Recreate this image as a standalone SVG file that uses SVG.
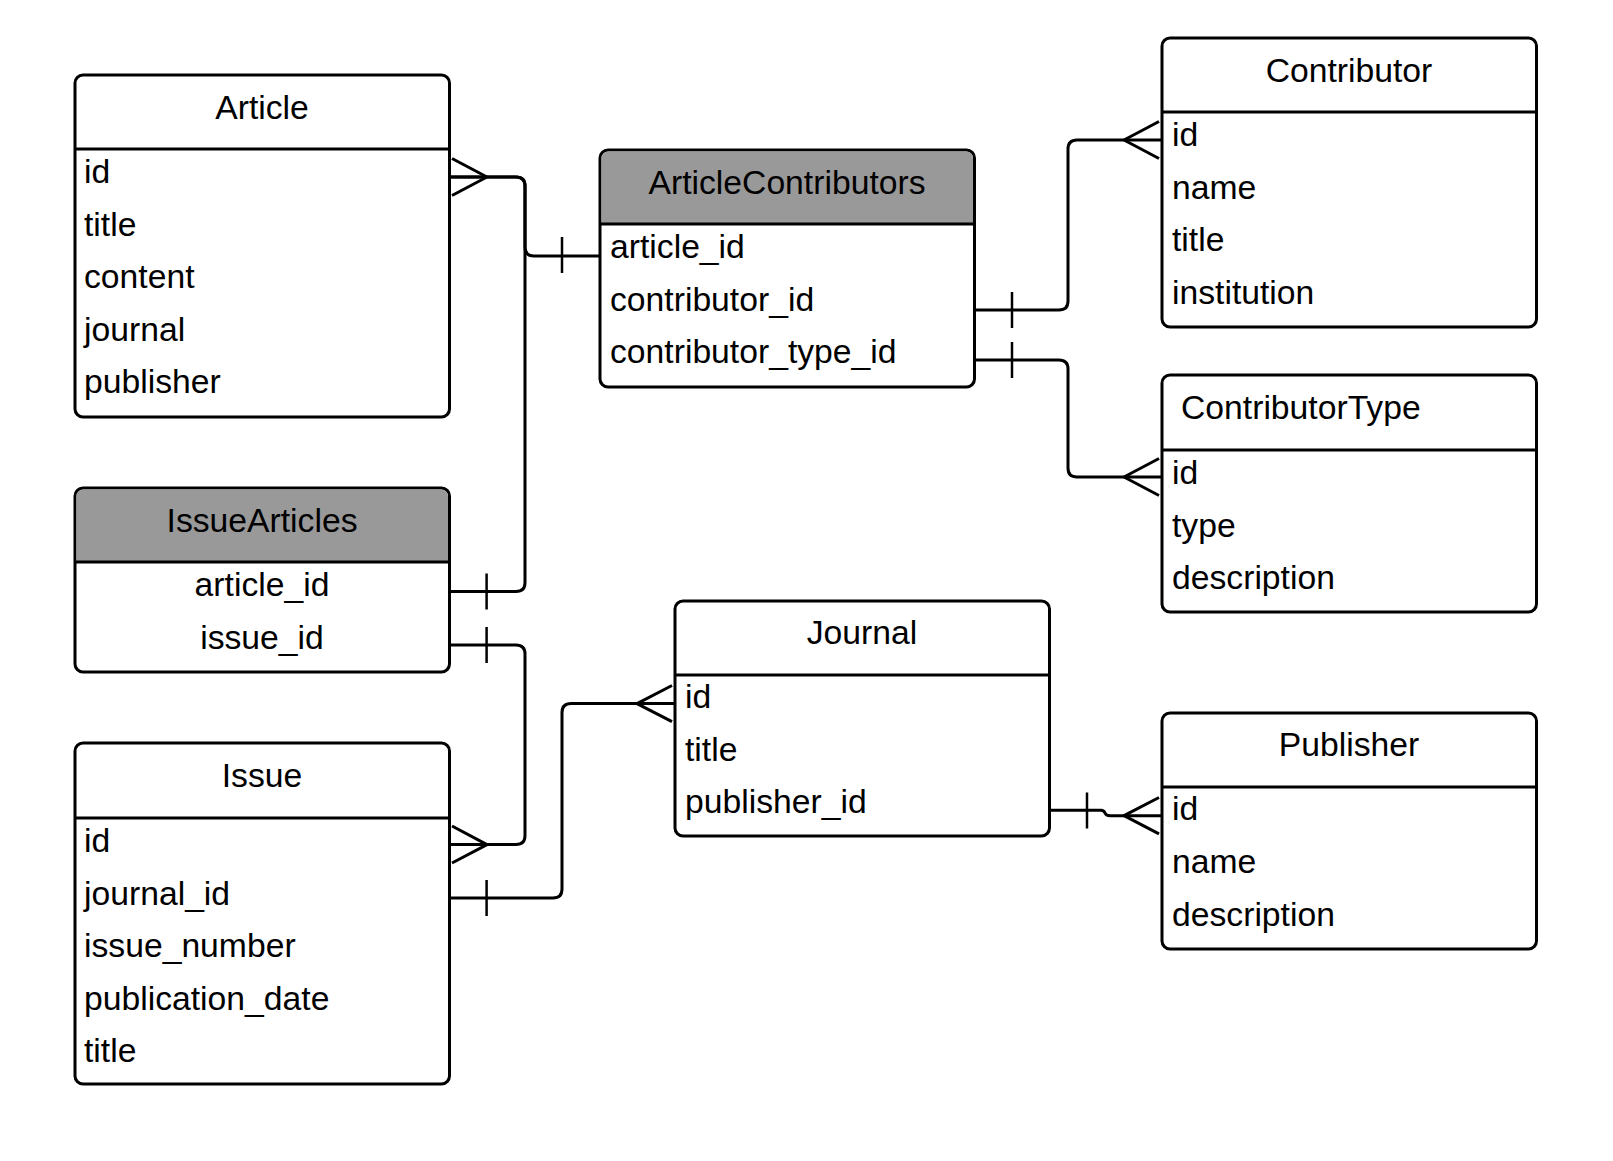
<svg xmlns="http://www.w3.org/2000/svg" width="1613" height="1161" viewBox="0 0 1613 1161">
<style>
.box{fill:#fff;stroke:#000;stroke-width:3}
.hdr{fill:#999;stroke:none}
.sep{stroke:#000;stroke-width:3}
.t{font-family:"Liberation Sans",Arial,sans-serif;font-size:33.7px;fill:#000}
.c{text-anchor:middle}
.ln{fill:none;stroke:#000;stroke-width:3;stroke-linejoin:round}
.tk{stroke:#000;stroke-width:2.5}
</style>
<rect width="1613" height="1161" fill="#fff"/>
<g id="Article">
<rect class="box" x="75" y="75" width="374.5" height="342" rx="8"/>
<line class="sep" x1="75" y1="149" x2="449.5" y2="149"/>
<text class="t c" x="262" y="119">Article</text>
<text class="t" x="84" y="183">id</text>
<text class="t" x="84" y="235.5">title</text>
<text class="t" x="84" y="288">content</text>
<text class="t" x="84" y="340.5">journal</text>
<text class="t" x="84" y="393">publisher</text>
</g>
<g id="ArticleContributors">
<rect class="box" x="600" y="150" width="374.5" height="237" rx="8"/>
<path class="hdr" d="M601.5 224 V159 Q601.5 151.5 609 151.5 H965.5 Q973 151.5 973 159 V224 Z"/>
<line class="sep" x1="600" y1="224" x2="974.5" y2="224"/>
<text class="t c" x="787" y="194">ArticleContributors</text>
<text class="t" x="610" y="258">article_id</text>
<text class="t" x="610" y="310.5">contributor_id</text>
<text class="t" x="610" y="363">contributor_type_id</text>
</g>
<g id="Contributor">
<rect class="box" x="1162" y="38" width="374.5" height="289" rx="8"/>
<line class="sep" x1="1162" y1="112" x2="1536.5" y2="112"/>
<text class="t c" x="1349" y="82">Contributor</text>
<text class="t" x="1172" y="146">id</text>
<text class="t" x="1172" y="198.5">name</text>
<text class="t" x="1172" y="251">title</text>
<text class="t" x="1172" y="303.5">institution</text>
</g>
<g id="ContributorType">
<rect class="box" x="1162" y="375" width="374.5" height="237" rx="8"/>
<line class="sep" x1="1162" y1="450" x2="1536.5" y2="450"/>
<text class="t" x="1181" y="419">ContributorType</text>
<text class="t" x="1172" y="484">id</text>
<text class="t" x="1172" y="536.5">type</text>
<text class="t" x="1172" y="589">description</text>
</g>
<g id="IssueArticles">
<rect class="box" x="75" y="488" width="374.5" height="184" rx="8"/>
<path class="hdr" d="M76.5 562 V497 Q76.5 489.5 84 489.5 H440.5 Q448 489.5 448 497 V562 Z"/>
<line class="sep" x1="75" y1="562" x2="449.5" y2="562"/>
<text class="t c" x="262" y="532">IssueArticles</text>
<text class="t c" x="262" y="596">article_id</text>
<text class="t c" x="262" y="648.5">issue_id</text>
</g>
<g id="Issue">
<rect class="box" x="75" y="743" width="374.5" height="341" rx="8"/>
<line class="sep" x1="75" y1="818" x2="449.5" y2="818"/>
<text class="t c" x="262" y="787">Issue</text>
<text class="t" x="84" y="852">id</text>
<text class="t" x="84" y="904.5">journal_id</text>
<text class="t" x="84" y="957">issue_number</text>
<text class="t" x="84" y="1009.5">publication_date</text>
<text class="t" x="84" y="1062">title</text>
</g>
<g id="Journal">
<rect class="box" x="675" y="601" width="374.5" height="235" rx="8"/>
<line class="sep" x1="675" y1="675" x2="1049.5" y2="675"/>
<text class="t c" x="862" y="644">Journal</text>
<text class="t" x="685" y="708">id</text>
<text class="t" x="685" y="760.5">title</text>
<text class="t" x="685" y="813">publisher_id</text>
</g>
<g id="Publisher">
<rect class="box" x="1162" y="713" width="374.5" height="236" rx="8"/>
<line class="sep" x1="1162" y1="787" x2="1536.5" y2="787"/>
<text class="t c" x="1349" y="756">Publisher</text>
<text class="t" x="1172" y="820">id</text>
<text class="t" x="1172" y="872.5">name</text>
<text class="t" x="1172" y="925.5">description</text>
</g>
<g id="connectors">
<path class="ln" d="M449 177 H516 Q525 177 525 186 V247 Q525 256 534 256 H600"/>
<path class="ln" d="M452 158.5 L487 177 L452 195.5"/>
<line class="tk" x1="562" y1="237" x2="562" y2="273"/>
<path class="ln" d="M449 177 H516 Q525 177 525 186 V582.5 Q525 591.5 516 591.5 H449"/>
<line class="tk" x1="486.6" y1="573.5" x2="486.6" y2="609.5"/>
<path class="ln" d="M449 645 H516 Q525 645 525 654 V835.6 Q525 844.6 516 844.6 H449"/>
<line class="tk" x1="486.6" y1="627" x2="486.6" y2="663"/>
<path class="ln" d="M452 826 L487 844.6 L452 863"/>
<path class="ln" d="M449 898 H553 Q562 898 562 889 V712.6 Q562 703.6 571 703.6 H675"/>
<line class="tk" x1="486.6" y1="880" x2="486.6" y2="916"/>
<path class="ln" d="M672 685.5 L637 703.6 L672 721.7"/>
<path class="ln" d="M974.5 310 H1059 Q1068 310 1068 301 V149 Q1068 140 1077 140 H1162"/>
<line class="tk" x1="1012" y1="292" x2="1012" y2="328"/>
<path class="ln" d="M1159 121.5 L1124 140 L1159 158.5"/>
<path class="ln" d="M974.5 360 H1059 Q1068 360 1068 369 V468 Q1068 477 1077 477 H1162"/>
<line class="tk" x1="1012" y1="342" x2="1012" y2="378"/>
<path class="ln" d="M1159 458.5 L1124 477 L1159 495.5"/>
<path class="ln" d="M1049.5 810.3 H1101 Q1104 810.3 1105 813 Q1106 815.7 1110 815.7 H1162"/>
<line class="tk" x1="1087" y1="792.5" x2="1087" y2="828.5"/>
<path class="ln" d="M1159 797.5 L1124 815.7 L1159 833.9"/>
</g>
</svg>
